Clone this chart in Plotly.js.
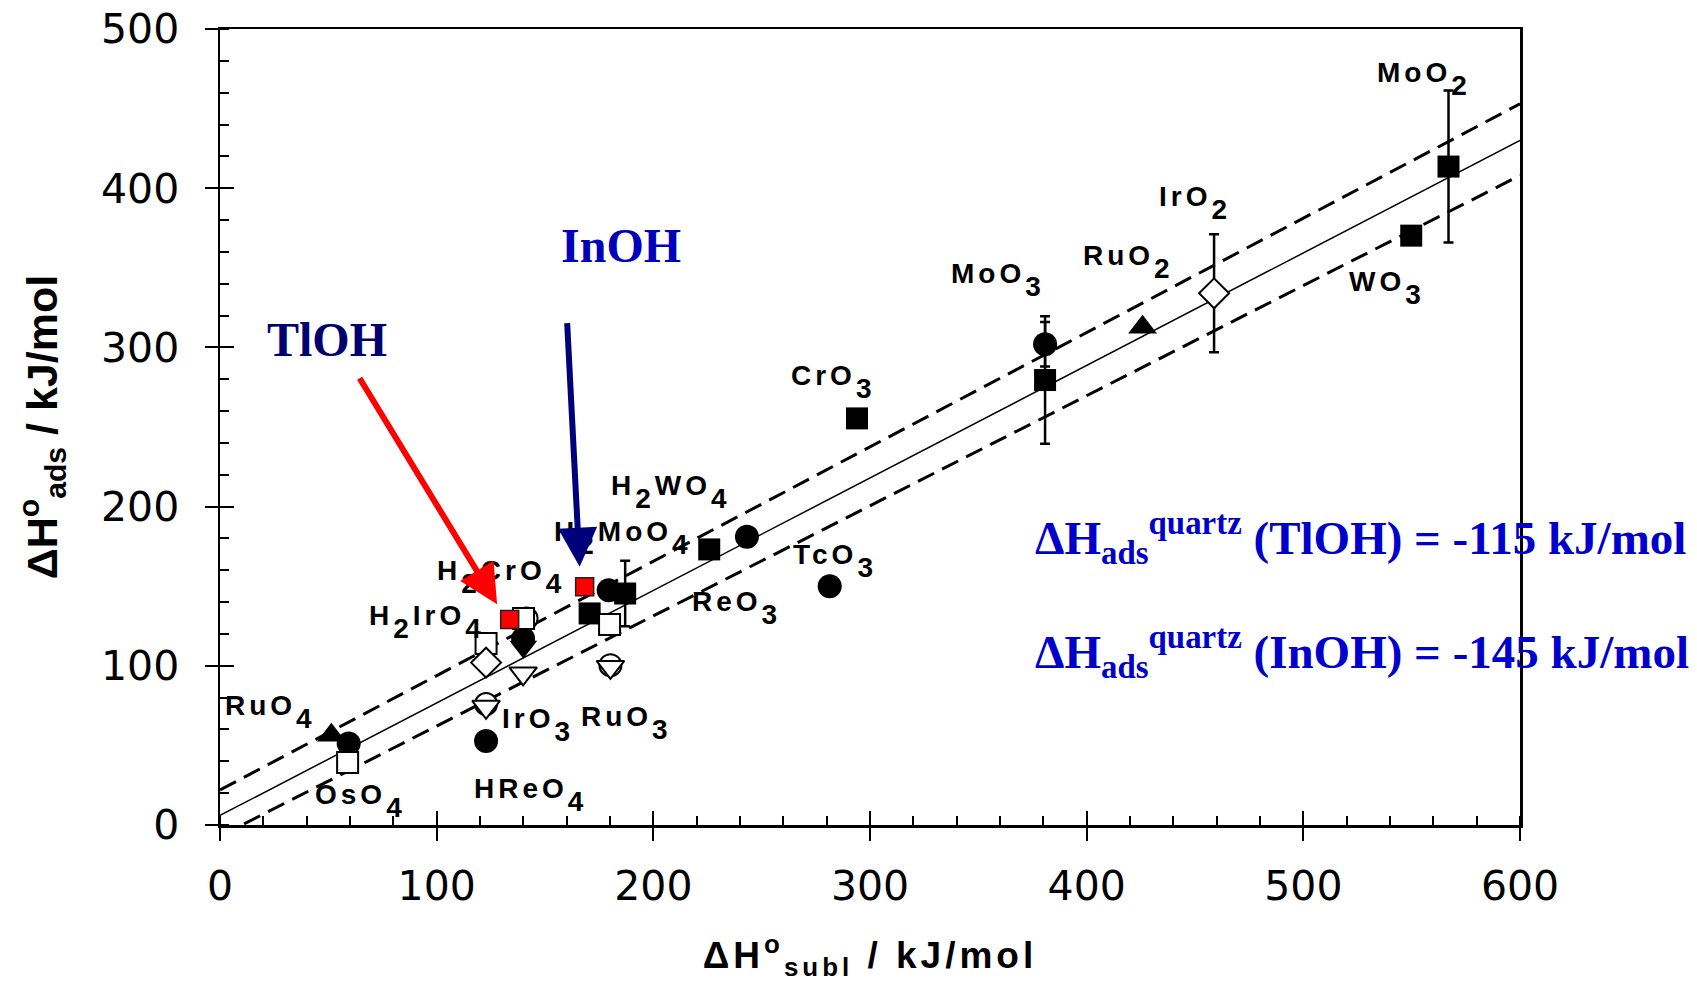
<!DOCTYPE html>
<html><head><meta charset="utf-8">
<script src="https://cdn.plot.ly/plotly-3.0.1.min.js"></script>
<style>html,body{margin:0;padding:0;background:#fff}</style>
</head><body><div id="chart" style="width:1697px;height:981px"></div>
<script>
// ---- regression line and confidence band ----
const lineX  = [0, 600];
const fitY   = [6, 430];
const upperY = [22, 453];
const lowerY = [-7, 408];

// ---- data points (ΔH subl, ΔH ads) ----
const filledCircleX   = [59.4, 122.8, 139.9, 179.4, 243.2, 281.4, 380.8];
const filledCircleY   = [51.2, 52.8, 117, 147.5, 181, 150, 302];
const filledCircleErr = [NaN, NaN, NaN, NaN, NaN, NaN, 14];

const filledSquareX   = [170.6, 187, 225.8, 294, 380.8, 549.8, 567];
const filledSquareY   = [132.9, 145.4, 173.1, 255.4, 279.5, 370.2, 413.6];
const filledSquareErr = [NaN, 20.6, NaN, NaN, 40, NaN, 47.7];

const filledTriUpX = [51.4, 425.8];
const filledTriUpY = [56.4, 312.6];

const filledTriDownX = [140];
const filledTriDownY = [112];

const openCircleX = [122.8, 141.5, 180.2];
const openCircleY = [76, 129.7, 100.4];

const openSquareX = [58.9, 122.8, 140.1, 179.8];
const openSquareY = [39.2, 114, 129.7, 126];

const openTriDownX = [122.8, 139.9, 180.2];
const openTriDownY = [74.2, 95.2, 99.3];

const openDiamondX   = [122.8, 458.8];
const openDiamondY   = [102, 334];
const openDiamondErr = [NaN, 37];

// TlOH and InOH
const redSquareX = [133.7, 168.3];
const redSquareY = [129.1, 149.6];

// ---- compound labels ----
const labelNames = ['RuO4','OsO4','HReO4','IrO3','RuO3','H2IrO4','H2CrO4','H2MoO4','H2WO4',
                    'ReO3','TcO3','CrO3','MoO3','RuO2','IrO2','WO3','MoO2'];

// ---- tick labels ----
const xTickVals = [0, 100, 200, 300, 400, 500, 600];
const yTickVals = [0, 100, 200, 300, 400, 500];

// label placement (layout)
const labelPos = [[23.5,70.8],[64.8,14.9],[143.2,18.7],[146.9,62.7],[187.4,63.9],[95.5,127.4],
  [129.8,155.7],[186.2,180.2],[208.3,209.1],[238.3,136.2],[283.8,165.7],[283.1,278.2],
  [358.9,342.3],[419.3,353.7],[449.8,390.4],[538.6,337.3],[555.9,468.7]];

function chem(name){
  return '<span style="letter-spacing:4px">' +
    name.replace(/(\d)/g, '<span style="baseline-shift:-0.45em">$1</span>') + '</span>';
}

const errStyle = (arr) => ({type:'data', array:arr, visible:true, color:'black', thickness:2.5, width:5});

const traces = [
  {x:lineX, y:upperY, mode:'lines', line:{color:'black', width:3, dash:'18px,9px'}, hoverinfo:'skip'},
  {x:lineX, y:lowerY, mode:'lines', line:{color:'black', width:3, dash:'18px,9px'}, hoverinfo:'skip'},
  {x:lineX, y:fitY,   mode:'lines', line:{color:'black', width:1.5}, hoverinfo:'skip'},
  {x:openCircleX, y:openCircleY, mode:'markers',
   marker:{symbol:'circle', size:22, color:'white', line:{color:'black', width:2}}},
  {x:filledCircleX, y:filledCircleY, mode:'markers', error_y:errStyle(filledCircleErr),
   marker:{symbol:'circle', size:24, color:'black'}},
  {x:filledTriDownX, y:filledTriDownY, mode:'markers',
   marker:{symbol:'triangle-down', size:24, color:'black'}},
  {x:filledSquareX, y:filledSquareY, mode:'markers', error_y:errStyle(filledSquareErr),
   marker:{symbol:'square', size:22, color:'black'}},
  {x:openSquareX, y:openSquareY, mode:'markers',
   marker:{symbol:'square', size:21, color:'white', line:{color:'black', width:2}}},
  {x:openTriDownX, y:openTriDownY, mode:'markers',
   marker:{symbol:'triangle-down', size:24, color:'white', line:{color:'black', width:2}}},
  {x:openDiamondX, y:openDiamondY, mode:'markers', error_y:errStyle(openDiamondErr),
   marker:{symbol:'diamond', size:23, color:'white', line:{color:'black', width:2}}},
  {x:filledTriUpX, y:filledTriUpY, mode:'markers',
   marker:{symbol:'triangle-up', size:25, color:'black'}},
  {x:redSquareX, y:redSquareY, mode:'markers',
   marker:{symbol:'square', size:18, color:'#ff0000', line:{color:'#222', width:1.5}}},
  {x:[], y:[], xaxis:'x2', yaxis:'y2', mode:'markers'}
];

const annotations = labelNames.map((n,i)=>({
  x:labelPos[i][0], y:labelPos[i][1], xref:'x', yref:'y', text:chem(n), showarrow:false,
  xanchor:'center', yanchor:'middle',
  font:{family:'Liberation Sans, Arial, sans-serif', size:28, color:'black', weight:'bold'}
}));

annotations.push(
  {x:49.6, y:305, xref:'x', yref:'y', text:'TlOH', showarrow:false,
   font:{family:'Liberation Serif, Times New Roman, serif', size:48, color:'#00006e', weight:'bold'}},
  {x:185.2, y:364, xref:'x', yref:'y', text:'InOH', showarrow:false,
   font:{family:'Liberation Serif, Times New Roman, serif', size:48, color:'#0000bb', weight:'bold'}},
  {x:127.9, y:138.7, ax:64, ay:281.6, xref:'x', yref:'y', axref:'x', ayref:'y', text:'',
   showarrow:true, arrowhead:2, arrowsize:1.3, arrowwidth:6, arrowcolor:'#ff0000'},
  {x:166, y:162.2, ax:160.2, ay:316.2, xref:'x', yref:'y', axref:'x', ayref:'y', text:'',
   showarrow:true, arrowhead:2, arrowsize:1.3, arrowwidth:6, arrowcolor:'#00007a'},
  {x:375.4, y:180, xref:'x', yref:'y', xanchor:'left', yanchor:'middle', showarrow:false,
   text:'ΔH<sub>ads</sub><sup>quartz</sup> (TlOH) = -115 kJ/mol',
   font:{family:'Liberation Serif, Times New Roman, serif', size:47, color:'#0000cc', weight:'bold'}},
  {x:375.4, y:108.5, xref:'x', yref:'y', xanchor:'left', yanchor:'middle', showarrow:false,
   text:'ΔH<sub>ads</sub><sup>quartz</sup> (InOH) = -145 kJ/mol',
   font:{family:'Liberation Serif, Times New Roman, serif', size:47, color:'#0000cc', weight:'bold'}}
);

const tickFont = {family:'DejaVu Sans, sans-serif', size:41, color:'black'};

const layout = {
  width:1697, height:981,
  margin:{l:220, r:177, t:29, b:156},
  paper_bgcolor:'white', plot_bgcolor:'white',
  showlegend:false,
  xaxis:{range:[0,600], tickvals:xTickVals, ticktext:xTickVals.map(String),
    ticks:'outside', ticklen:13, tickwidth:2, tickcolor:'black',
    showline:true, linecolor:'black', linewidth:2.5, mirror:true,
    showgrid:false, zeroline:false, tickfont:tickFont, ticklabelstandoff:10,
    minor:{ticks:'inside', dtick:20, tick0:0, ticklen:9, tickwidth:2, tickcolor:'black', showgrid:false},
    title:{text:'<span style="letter-spacing:4px">ΔH<sup>o</sup><sub>subl</sub> / kJ/mol</span>',
      standoff:34, font:{family:'Liberation Sans, Arial, sans-serif', size:37, color:'black', weight:'bold'}}},
  yaxis:{range:[0,500], tickvals:yTickVals, ticktext:yTickVals.map(String),
    ticks:'outside', ticklen:13, tickwidth:2, tickcolor:'black',
    showline:true, linecolor:'black', linewidth:2.5, mirror:true,
    showgrid:false, zeroline:false, tickfont:tickFont, ticklabelstandoff:17,
    minor:{ticks:'inside', dtick:20, tick0:0, ticklen:9, tickwidth:2, tickcolor:'black', showgrid:false},
    title:{text:'ΔH<sup>o</sup><sub>ads</sub> / kJ/mol', standoff:30,
      font:{family:'Liberation Sans Narrow, Liberation Sans, Arial, sans-serif', size:43, color:'black', weight:'bold'}}},
  xaxis2:{overlaying:'x', anchor:'y', side:'bottom', range:[0,600], tickvals:xTickVals,
    ticks:'inside', ticklen:14, tickwidth:2, tickcolor:'black', showticklabels:false,
    showline:false, showgrid:false, zeroline:false},
  yaxis2:{overlaying:'y', anchor:'x', side:'left', range:[0,500], tickvals:yTickVals,
    ticks:'inside', ticklen:14, tickwidth:2, tickcolor:'black', showticklabels:false,
    showline:false, showgrid:false, zeroline:false},
  annotations:annotations
};

Plotly.newPlot('chart', traces, layout, {displayModeBar:false, staticPlot:true});
</script></body></html>
